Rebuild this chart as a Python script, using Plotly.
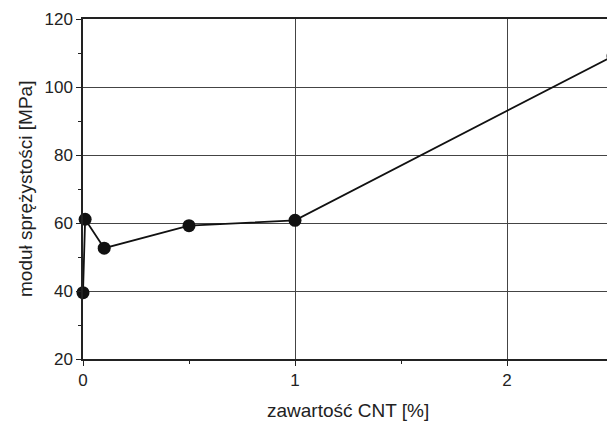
import plotly.graph_objects as go

cnt = [0, 0.01, 0.1, 0.5, 1.0, 2.5]
modul = [39.5, 61.1, 52.6, 59.2, 60.8, 109.1]
x_ticks = [0, 1, 2]
y_ticks = [20, 40, 60, 80, 100, 120]

fig = go.Figure(go.Scatter(
    x=cnt, y=modul, mode="lines+markers",
    line=dict(color="#111111", width=1.8),
    marker=dict(color="#111111", size=13),
    cliponaxis=False,
))

font = "Liberation Sans, Arial, sans-serif"
axis_common = dict(
    showline=True, linecolor="#222222", linewidth=1.5, mirror=True,
    showgrid=True, gridcolor="#444444", gridwidth=1,
    zeroline=False, ticks="outside", ticklen=5, tickcolor="#222222",
    tickfont=dict(family=font, size=17, color="#222222"),
    automargin=False,
)
fig.update_xaxes(
    range=[0, 2.5], tickvals=x_ticks, ticktext=[str(v) for v in x_ticks],
    minor=dict(dtick=0.5, tick0=0, ticks="outside", ticklen=3, tickcolor="#222222", showgrid=False),
    **axis_common,
)
fig.update_yaxes(
    range=[20, 120], tickvals=y_ticks, ticktext=[str(v) for v in y_ticks],
    minor=dict(dtick=10, tick0=0, ticks="outside", ticklen=3, tickcolor="#222222", showgrid=False),
    **axis_common,
)
fig.add_annotation(
    text="zawartość CNT [%]", xref="paper", yref="paper", x=0.5, y=0,
    xanchor="center", yanchor="middle", yshift=-51, showarrow=False,
    font=dict(family=font, size=19, color="#222222"),
)
fig.add_annotation(
    text="moduł sprężystości [MPa]", xref="paper", yref="paper", x=0, y=0.5,
    xanchor="center", yanchor="middle", xshift=-58, textangle=-90, showarrow=False,
    font=dict(family=font, size=19, color="#222222"),
)
fig.update_layout(
    width=607, height=413,
    margin=dict(l=75, r=2, t=11, b=62),
    plot_bgcolor="white", paper_bgcolor="white",
    showlegend=False,
)
fig.write_html("out.html")
